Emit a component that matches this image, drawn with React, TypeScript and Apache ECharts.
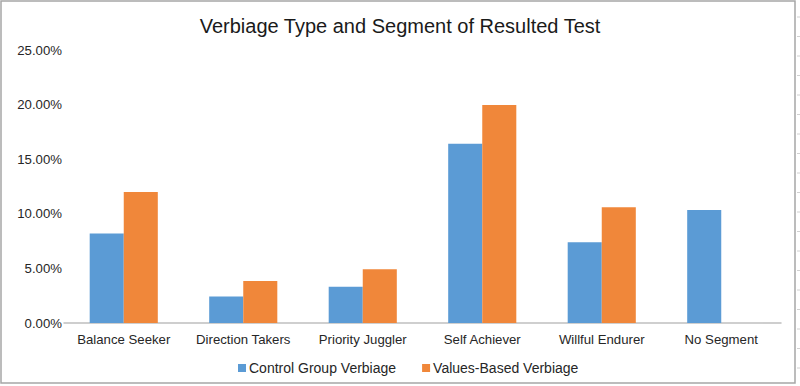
import React, { useEffect, useRef } from "react";
import * as echarts from "echarts";

const title = "Verbiage Type and Segment of Resulted Test";
const categories = ["Balance Seeker", "Direction Takers", "Priority Juggler", "Self Achiever", "Willful Endurer", "No Segment"];
const controlName = "Control Group Verbiage";
const valuesName = "Values-Based Verbiage";
const controlValues = [8.2, 2.42, 3.33, 16.42, 7.39, 10.35];
const valuesBased = [12.0, 3.85, 4.92, 19.96, 10.6, null];
const yTicks = [0, 5, 10, 15, 20, 25];

export default function App() {
  const ref = useRef<HTMLDivElement>(null);
  useEffect(() => {
    if (!ref.current) return;
    const chart = echarts.init(ref.current, null, { renderer: "svg" });
    const rulerTicks: any[] = [];
    for (let i = 0; i < 19; i++) {
      const y = 17 + i * 19.5;
      rulerTicks.push({
        type: "line",
        shape: { x1: 797, y1: y, x2: 800, y2: y },
        style: { stroke: "#d0d0d0", lineWidth: 1 },
        silent: true,
      });
    }
    chart.setOption({
      animation: false,
      backgroundColor: "#ffffff",
      textStyle: { fontFamily: "Liberation Sans, Arial, sans-serif" },
      title: {
        text: title,
        left: "center",
        top: 11,
        textStyle: { fontSize: 20, fontWeight: "normal", color: "#1a1a1a", fontFamily: "Liberation Sans, Arial, sans-serif" },
      },
      graphic: [
        {
          type: "rect",
          shape: { x: 1, y: 1, width: 794, height: 382 },
          style: { fill: "none", stroke: "#a6a6a6", lineWidth: 1.5 },
          silent: true,
        },
        ...rulerTicks,
      ],
      legend: {
        bottom: 6,
        left: 233,
        itemWidth: 8,
        itemHeight: 8,
        itemGap: 26,
        icon: "rect",
        textStyle: { fontSize: 14, color: "#262626", padding: [0, 0, 0, -2] },
        data: [controlName, valuesName],
      },
      grid: { left: 64, right: 19, top: 50, bottom: 63 },
      xAxis: {
        type: "category",
        data: categories,
        axisLine: { lineStyle: { color: "#bfbfbf", width: 1.5 } },
        axisTick: { show: false },
        axisLabel: { fontSize: 13.2, color: "#262626", margin: 10, interval: 0 },
      },
      yAxis: {
        type: "value",
        min: 0,
        max: 25,
        interval: 5,
        axisLine: { show: false },
        axisTick: { show: false },
        splitLine: { show: false },
        axisLabel: {
          fontSize: 13.2,
          color: "#262626",
          margin: 2,
          formatter: (v: number) => (yTicks.includes(v) ? v.toFixed(2) + "%" : ""),
        },
      },
      series: [
        {
          name: controlName,
          type: "bar",
          data: controlValues,
          barGap: "0%",
          barCategoryGap: "43%",
          itemStyle: { color: "#5B9BD5" },
        },
        {
          name: valuesName,
          type: "bar",
          data: valuesBased,
          barGap: "0%",
          barCategoryGap: "43%",
          itemStyle: { color: "#F0873A" },
        },
      ],
    });
    return () => chart.dispose();
  }, []);
  return (
    <div
      ref={ref}
      style={{ position: "fixed", left: 0, top: 0, width: 800, height: 386 }}
    />
  );
}
